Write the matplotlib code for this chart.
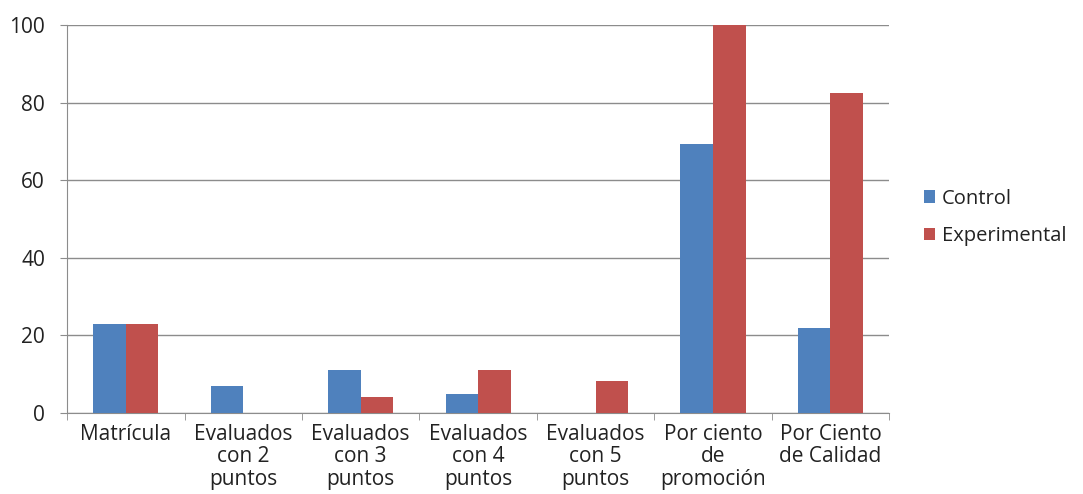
import numpy as np
import matplotlib.pyplot as plt

categories = ['Matrícula', 'Evaluados\ncon 2\npuntos', 'Evaluados\ncon 3\npuntos',
              'Evaluados\ncon 4\npuntos', 'Evaluados\ncon 5\npuntos',
              'Por ciento\nde\npromoción', 'Por Ciento\nde Calidad']
control = [23, 7, 11, 5, 0, 69.3, 21.8]
experimental = [23, 0, 4, 11, 8.2, 100, 82.5]

plt.rcParams['font.family'] = ['Open Sans', 'DejaVu Sans']

fig = plt.figure(figsize=(10.83, 4.94), dpi=100)
ax = fig.add_axes([0.062, 0.164, 0.759, 0.785])

x = np.arange(len(categories))
w = 0.277
ax.bar(x - w / 2, control, w, color='#4F81BD', label='Control', zorder=3)
ax.bar(x + w / 2, experimental, w, color='#C0504D', label='Experimental', zorder=3)

ax.set_xlim(-0.5, len(categories) - 0.5)
ax.set_ylim(0, 100)
ax.set_yticks(range(0, 101, 20))
ax.yaxis.grid(True, color='#8c8c8c', linewidth=1, zorder=0)

ax.set_xticks(x)
ax.set_xticklabels(categories, fontsize=15, color='#222222', linespacing=1.08)
ax.set_xticks(np.arange(-0.5, len(categories)), minor=True)
ax.tick_params(axis='x', which='major', length=0, pad=8)
ax.tick_params(axis='x', which='minor', length=5, color='#8c8c8c', direction='out')
ax.tick_params(axis='y', length=5, color='#8c8c8c', labelsize=15, labelcolor='#222222', pad=11)

for s in ['top', 'right']:
    ax.spines[s].set_visible(False)
for s in ['left', 'bottom']:
    ax.spines[s].set_color('#8c8c8c')

ax.legend(loc='center left', bbox_to_anchor=(1.02, 0.505), frameon=False,
          fontsize=14.5, handlelength=0.55, handleheight=0.55, handletextpad=0.35,
          labelspacing=0.85, labelcolor='#222222')

fig.savefig('out.png', dpi=100)
